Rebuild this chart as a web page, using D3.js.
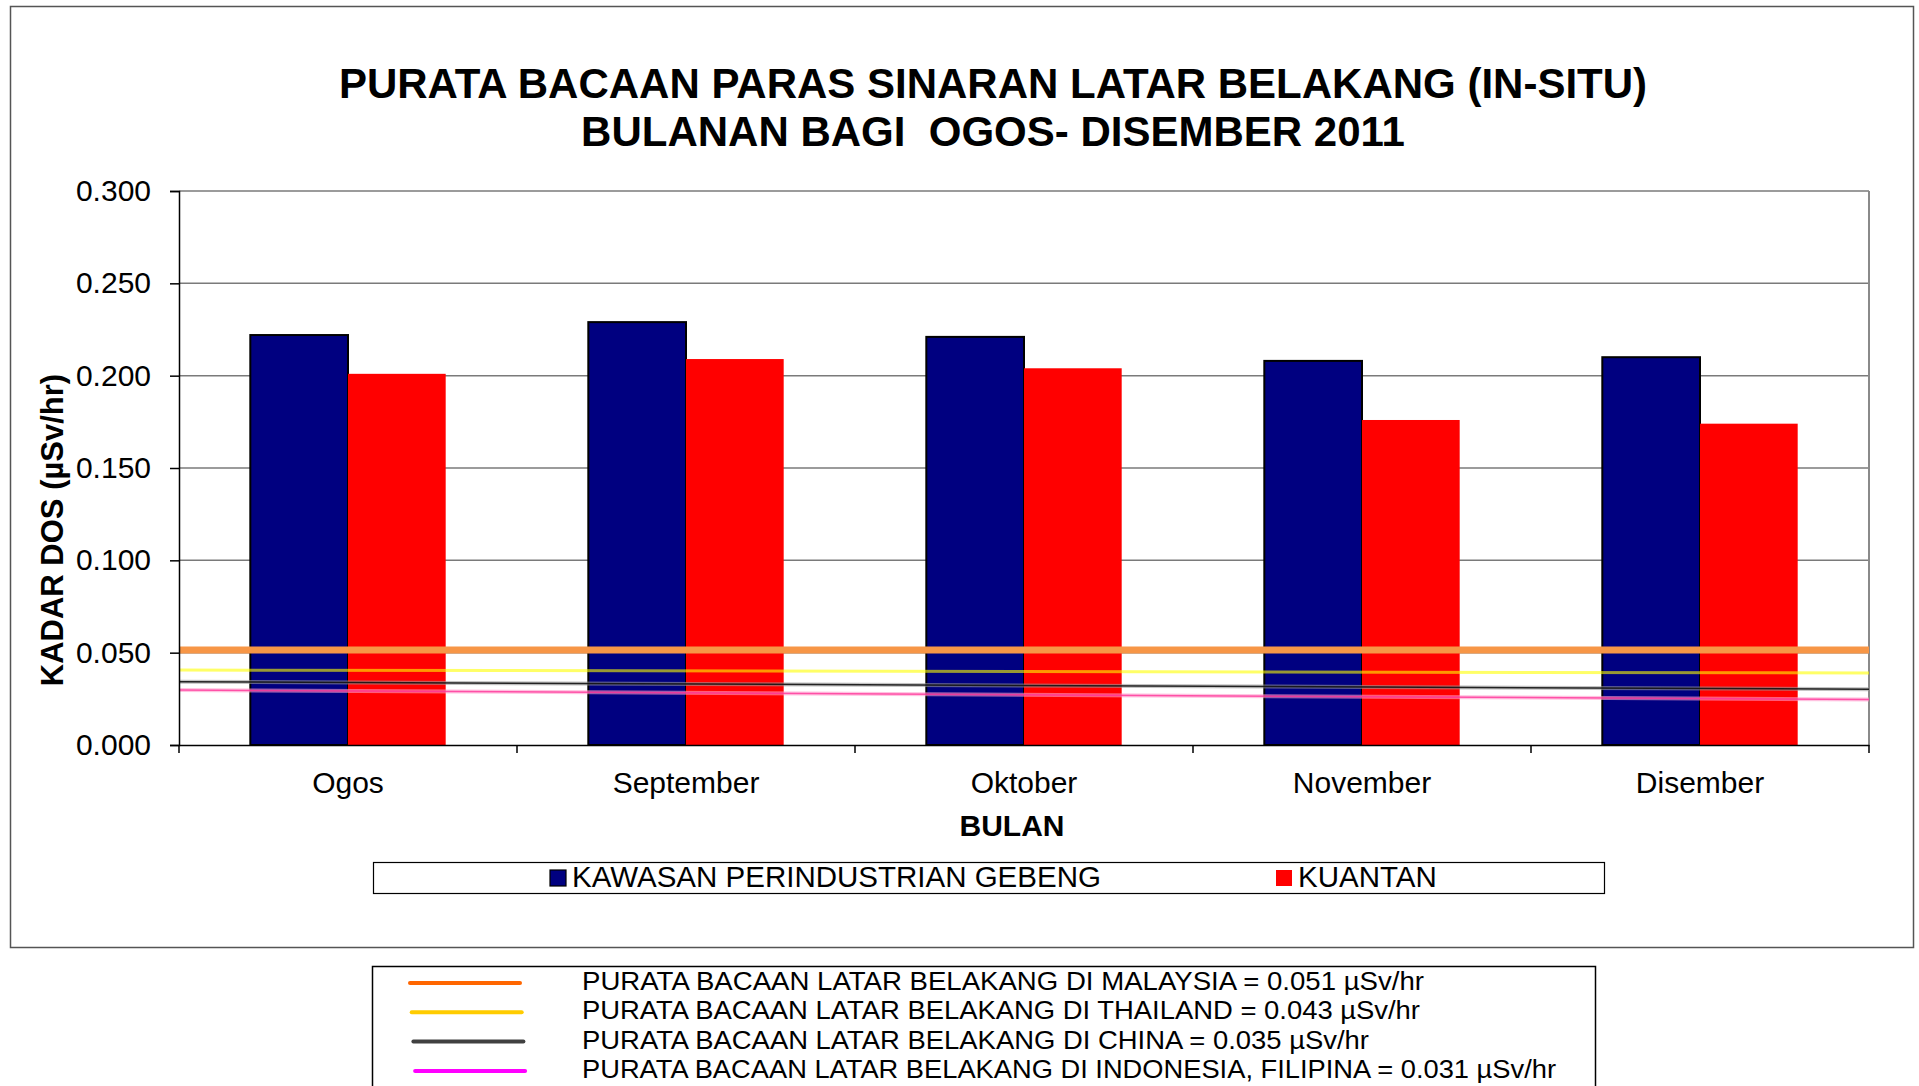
<!DOCTYPE html>
<html>
<head>
<meta charset="utf-8">
<script src="https://cdn.jsdelivr.net/npm/d3@7"></script>
<style>
    body { margin: 0; background: #fff; }
    svg { display: block; font-family: "Liberation Sans", Arial, sans-serif; }
</style>
</head>
<body>
<svg id="chart" width="1919" height="1086"></svg>
<script>
// data
var months = ["Ogos", "September", "Oktober", "November", "Disember"];
var seriesNames = ["KAWASAN PERINDUSTRIAN GEBENG", "KUANTAN"];
var gebeng = [0.222, 0.229, 0.221, 0.208, 0.210];
var kuantan = [0.201, 0.209, 0.204, 0.176, 0.174];
var yTicks = [0, 0.05, 0.10, 0.15, 0.20, 0.25, 0.30];

// background reference lines drawn across the plot (left end / right end)
var refStart = [0.0514, 0.0406, 0.0343, 0.0298];
var refEnd = [0.0514, 0.0390, 0.0302, 0.0246];
var refLabels = [
    "PURATA BACAAN LATAR BELAKANG DI MALAYSIA = 0.051 µSv/hr",
    "PURATA BACAAN LATAR BELAKANG DI THAILAND = 0.043 µSv/hr",
    "PURATA BACAAN LATAR BELAKANG DI CHINA = 0.035 µSv/hr",
    "PURATA BACAAN LATAR BELAKANG DI INDONESIA, FILIPINA = 0.031 µSv/hr"
];

var svg = d3.select("#chart");

var plotLeft = 179, plotRight = 1869, plotTop = 191, plotBottom = 745;

// outer chart border
svg.append("rect")
    .attr("x", 10.5).attr("y", 6.5)
    .attr("width", 1903).attr("height", 941)
    .attr("fill", "none")
    .attr("stroke", "#555")
    .attr("stroke-width", 1.5);

// title
var title = svg.append("text")
    .attr("text-anchor", "middle")
    .attr("font-weight", "bold")
    .attr("font-size", 42)
    .style("white-space", "pre");
title.append("tspan").attr("x", 993).attr("y", 98).text("PURATA BACAAN PARAS SINARAN LATAR BELAKANG (IN-SITU)");
title.append("tspan").attr("x", 993).attr("y", 146).text("BULANAN BAGI  OGOS- DISEMBER 2011");

var x = d3.scaleBand().domain(months).range([plotLeft, plotRight]);
var x1 = d3.scaleBand().domain(seriesNames).range([0, x.bandwidth()]).paddingOuter(0.73);
var y = d3.scaleLinear().domain([0, 0.3]).range([plotBottom, plotTop]);

// gridlines
svg.append("g")
    .selectAll("line")
    .data(yTicks.slice(1))
    .enter().append("line")
    .attr("x1", plotLeft).attr("x2", plotRight)
    .attr("y1", function (d) { return y(d); })
    .attr("y2", function (d) { return y(d); })
    .attr("stroke", "#7a7a7a")
    .attr("stroke-width", 1.5);

// right border of plot
svg.append("line")
    .attr("x1", plotRight).attr("x2", plotRight)
    .attr("y1", plotTop).attr("y2", plotBottom)
    .attr("stroke", "#8a8a8a")
    .attr("stroke-width", 2);

// bars
var barData = [];
months.forEach(function (m, i) {
    barData.push({ month: m, series: seriesNames[0], value: gebeng[i] });
    barData.push({ month: m, series: seriesNames[1], value: kuantan[i] });
});
var colors = { "KAWASAN PERINDUSTRIAN GEBENG": "#000080", "KUANTAN": "#ff0000" };

svg.append("g")
    .selectAll("rect")
    .data(barData)
    .enter().append("rect")
    .attr("x", function (d) { return x(d.month) + x1(d.series); })
    .attr("y", function (d) { return y(d.value); })
    .attr("width", x1.bandwidth())
    .attr("height", function (d) { return y(0) - y(d.value); })
    .attr("fill", function (d) { return colors[d.series]; })
    .attr("stroke", function (d) { return d.series === seriesNames[0] ? "#000" : "none"; })
    .attr("stroke-width", 2);

// reference lines over the bars
var refStyles = [
    [{ c: "#f79646", w: 7, o: 1 }],
    [{ c: "#ffff00", w: 3, o: 0.6 }],
    [{ c: "#9a9a9a", w: 4, o: 0.6 }, { c: "#111", w: 1.5, o: 0.9 }],
    [{ c: "#ff99cc", w: 4, o: 0.6 }, { c: "#ff3399", w: 1.5, o: 0.8 }]
];
refStart.forEach(function (v, i) {
    refStyles[i].forEach(function (s) {
        svg.append("line")
            .attr("x1", plotLeft).attr("x2", plotRight)
            .attr("y1", y(v)).attr("y2", y(refEnd[i]))
            .attr("stroke", s.c)
            .attr("stroke-width", s.w)
            .attr("stroke-opacity", s.o);
    });
});

// axes
var yAxis = svg.append("g")
    .attr("transform", "translate(" + plotLeft + ",0)")
    .call(d3.axisLeft(y).tickValues(yTicks).tickFormat(d3.format(".3f")).tickSize(9).tickPadding(19));
yAxis.select(".domain").attr("stroke", "#000").attr("stroke-width", 1.5);
yAxis.selectAll(".tick line").attr("stroke", "#000").attr("stroke-width", 1.5);
yAxis.selectAll("text").attr("font-size", 30).attr("fill", "#000")
    .attr("font-family", "'Liberation Sans', Arial, sans-serif");

var xAxis = svg.append("g")
    .attr("transform", "translate(0," + plotBottom + ")")
    .call(d3.axisBottom(x).tickSize(0).tickPadding(0));
xAxis.select(".domain").attr("stroke", "#000").attr("stroke-width", 1.5);
xAxis.selectAll(".tick text")
    .attr("font-size", 30).attr("fill", "#000")
    .attr("font-family", "'Liberation Sans', Arial, sans-serif")
    .attr("dy", null).attr("y", 48);

// x tick marks at band edges
svg.append("g")
    .selectAll("line")
    .data(months.concat(["end"]))
    .enter().append("line")
    .attr("x1", function (d, i) { return plotLeft + i * x.step(); })
    .attr("x2", function (d, i) { return plotLeft + i * x.step(); })
    .attr("y1", plotBottom).attr("y2", plotBottom + 8)
    .attr("stroke", "#000").attr("stroke-width", 1.5);

// axis titles
svg.append("text")
    .attr("transform", "translate(52,530) rotate(-90)")
    .attr("text-anchor", "middle")
    .attr("dominant-baseline", "central")
    .attr("font-weight", "bold")
    .attr("font-size", 31)
    .text("KADAR DOS (µSv/hr)");

svg.append("text")
    .attr("x", 1012).attr("y", 836)
    .attr("text-anchor", "middle")
    .attr("font-weight", "bold")
    .attr("font-size", 30)
    .text("BULAN");

// legend for bars
svg.append("rect")
    .attr("x", 373.5).attr("y", 862.5)
    .attr("width", 1231).attr("height", 31)
    .attr("fill", "#fff").attr("stroke", "#000").attr("stroke-width", 1.2);

var legendX = [550, 1276];
var legend = svg.append("g")
    .selectAll("g")
    .data(seriesNames)
    .enter().append("g")
    .attr("transform", function (d, i) { return "translate(" + legendX[i] + ",870)"; });
legend.append("rect")
    .attr("width", 16).attr("height", 16)
    .attr("fill", function (d) { return colors[d]; })
    .attr("stroke", function (d, i) { return i === 0 ? "#000" : "none"; })
    .attr("stroke-width", 1.2);
legend.append("text")
    .attr("x", 22).attr("y", 17)
    .attr("font-size", 29.5)
    .text(function (d) { return d; });

// legend for reference lines (box runs past the bottom edge)
svg.append("rect")
    .attr("x", 372.5).attr("y", 966.5)
    .attr("width", 1223).attr("height", 140)
    .attr("fill", "#fff").attr("stroke", "#000").attr("stroke-width", 1.5);

var refLegendColors = ["#ff6600", "#ffcc00", "#404040", "#ff00ff"];
var refLegendEnds = [1424, 1420, 1369, 1556];
var refLegend = svg.append("g")
    .selectAll("g")
    .data(refLabels)
    .enter().append("g")
    .attr("transform", function (d, i) { return "translate(0," + (983 + i * 29.3) + ")"; });
refLegend.append("line")
    .attr("x1", function (d, i) { return 410 + i * 1.7; })
    .attr("x2", function (d, i) { return 520 + i * 1.7; })
    .attr("stroke", function (d, i) { return refLegendColors[i]; })
    .attr("stroke-width", 4)
    .attr("stroke-linecap", "round");
refLegend.append("text")
    .attr("x", 582).attr("y", 7)
    .attr("font-size", 25)
    .attr("textLength", function (d, i) { return refLegendEnds[i] - 582; })
    .attr("lengthAdjust", "spacingAndGlyphs")
    .text(function (d) { return d; });
</script>
</body>
</html>
